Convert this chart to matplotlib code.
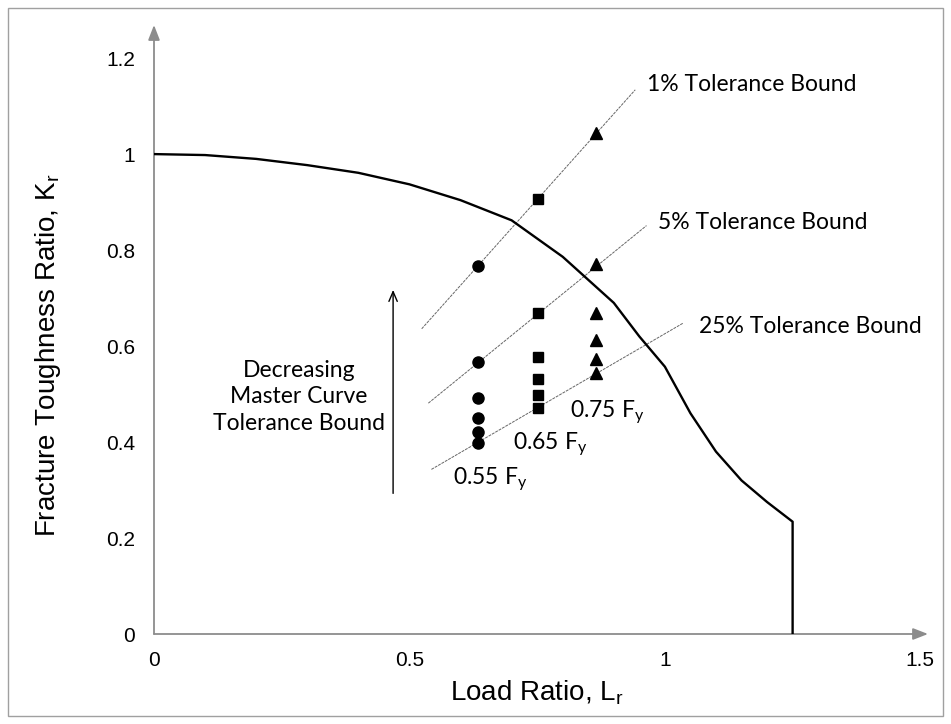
import matplotlib
matplotlib.use('Agg')
import matplotlib.pyplot as plt
from matplotlib.patches import Rectangle

# Failure assessment curve
lr_curve = [0, 0.1, 0.2, 0.3, 0.4, 0.5, 0.6, 0.7, 0.8, 0.9, 0.95, 1.0,
            1.05, 1.1, 1.15, 1.2, 1.25, 1.25]
kr_curve = [1.0, 0.998, 0.99, 0.977, 0.961, 0.937, 0.904, 0.862, 0.786, 0.69,
            0.62, 0.557, 0.46, 0.38, 0.32, 0.275, 0.234, 0.0]

# Assessment points at three stress levels
lr_055 = 0.634
kr_055 = [0.767, 0.567, 0.492, 0.451, 0.421, 0.399]
lr_065 = 0.752
kr_065 = [0.906, 0.668, 0.578, 0.531, 0.497, 0.471]
lr_075 = 0.866
kr_075 = [1.043, 0.772, 0.668, 0.6125, 0.572, 0.543]

# Tolerance bound lines (start, end)
bound_names = ['1% Tolerance Bound', '5% Tolerance Bound', '25% Tolerance Bound']
bound_lr = [(0.524, 0.942), (0.537, 0.964), (0.543, 1.036)]
bound_kr = [(0.636, 1.134), (0.481, 0.851), (0.343, 0.648)]
bound_label_pos = [(0.965, 1.144), (0.987, 0.857), (1.067, 0.640)]

stress_labels = ['0.55 F$_\\mathregular{y}$', '0.65 F$_\\mathregular{y}$', '0.75 F$_\\mathregular{y}$']
stress_label_pos = [(0.586, 0.322), (0.703, 0.394), (0.815, 0.460)]

xticks = [0, 0.5, 1, 1.5]
xticklabels = ['0', '0.5', '1', '1.5']
yticks = [0, 0.2, 0.4, 0.6, 0.8, 1, 1.2]
yticklabels = ['0', '0.2', '0.4', '0.6', '0.8', '1', '1.2']

W, H = 951, 724
fig = plt.figure(figsize=(W / 100, H / 100), dpi=100)
# axes placed so that 0..1.515 / 0..1.269 fill the arrowed axis lines
ax = fig.add_axes([154 / W, (H - 634) / H, (928 - 154) / W, (634 - 25) / H])
ax.set_xlim(0, 1.515)
ax.set_ylim(0, 1.269)

for s in ax.spines.values():
    s.set_visible(False)

axis_gray = '#8c8c8c'
arrow_kw = dict(arrowstyle='-|>,head_length=0.9,head_width=0.35', color=axis_gray,
                lw=1.3, shrinkA=0, shrinkB=0)
ax.annotate('', xy=(1, 0), xytext=(0, 0), xycoords='axes fraction',
            textcoords='axes fraction', arrowprops=arrow_kw)
ax.annotate('', xy=(0, 1), xytext=(0, 0), xycoords='axes fraction',
            textcoords='axes fraction', arrowprops=arrow_kw)

tick_font = 'Liberation Sans'
ax.set_xticks(xticks)
ax.set_xticklabels(xticklabels, fontsize=15, fontfamily=tick_font)
ax.set_yticks(yticks)
ax.set_yticklabels(yticklabels, fontsize=15, fontfamily=tick_font)
ax.tick_params(axis='x', length=0, pad=12)
ax.tick_params(axis='y', length=0, pad=13.5)

ax.set_xlabel('Load Ratio, L$_\\mathregular{r}$', fontsize=20, fontfamily=tick_font)
ax.set_ylabel('Fracture Toughness Ratio, K$_\\mathregular{r}$', fontsize=20,
              fontfamily=tick_font)
ax.xaxis.set_label_coords(0.494, -0.072)
ax.yaxis.set_label_coords(-0.118, 0.458)

# tolerance bound lines
for (x0, x1), (y0, y1) in zip(bound_lr, bound_kr):
    ax.plot([x0, x1], [y0, y1], color='#666666', lw=0.7, ls=(0, (3, 1)), zorder=2)

# failure assessment curve
ax.plot(lr_curve, kr_curve, color='black', lw=1.7, zorder=3)

# data points
ms = 8
ax.plot([lr_055] * len(kr_055), kr_055, 'o', color='black', ms=ms, zorder=4)
ax.plot([lr_065] * len(kr_065), kr_065, 's', color='black', ms=ms - 0.5, zorder=4)
ax.plot([lr_075] * len(kr_075), kr_075, '^', color='black', ms=ms + 0.5, zorder=4)

ann_font = 'Lato'
ann_size = 16.5
for name, (x, y) in zip(bound_names, bound_label_pos):
    ax.text(x, y, name, fontsize=ann_size, fontfamily=ann_font, ha='left', va='center')

for lab, (x, y) in zip(stress_labels, stress_label_pos):
    ax.text(x, y, lab, fontsize=ann_size, fontfamily=ann_font, ha='left', va='center')

ax.text(0.284, 0.494, 'Decreasing\nMaster Curve\nTolerance Bound', fontsize=ann_size,
        fontfamily=ann_font, ha='center', va='center', multialignment='center',
        linespacing=1.3)

ax.annotate('', xy=(0.468, 0.717), xytext=(0.468, 0.293),
            arrowprops=dict(arrowstyle='->,head_length=0.7,head_width=0.3',
                            color='black', lw=1.0, shrinkA=0, shrinkB=0))

# outer frame
fig.patches.append(Rectangle((8 / W, 8 / H), 1 - 16 / W, 1 - 16 / H,
                             transform=fig.transFigure, fill=False,
                             edgecolor='#a0a0a0', lw=1.0))

fig.savefig('out.png', dpi=100)
